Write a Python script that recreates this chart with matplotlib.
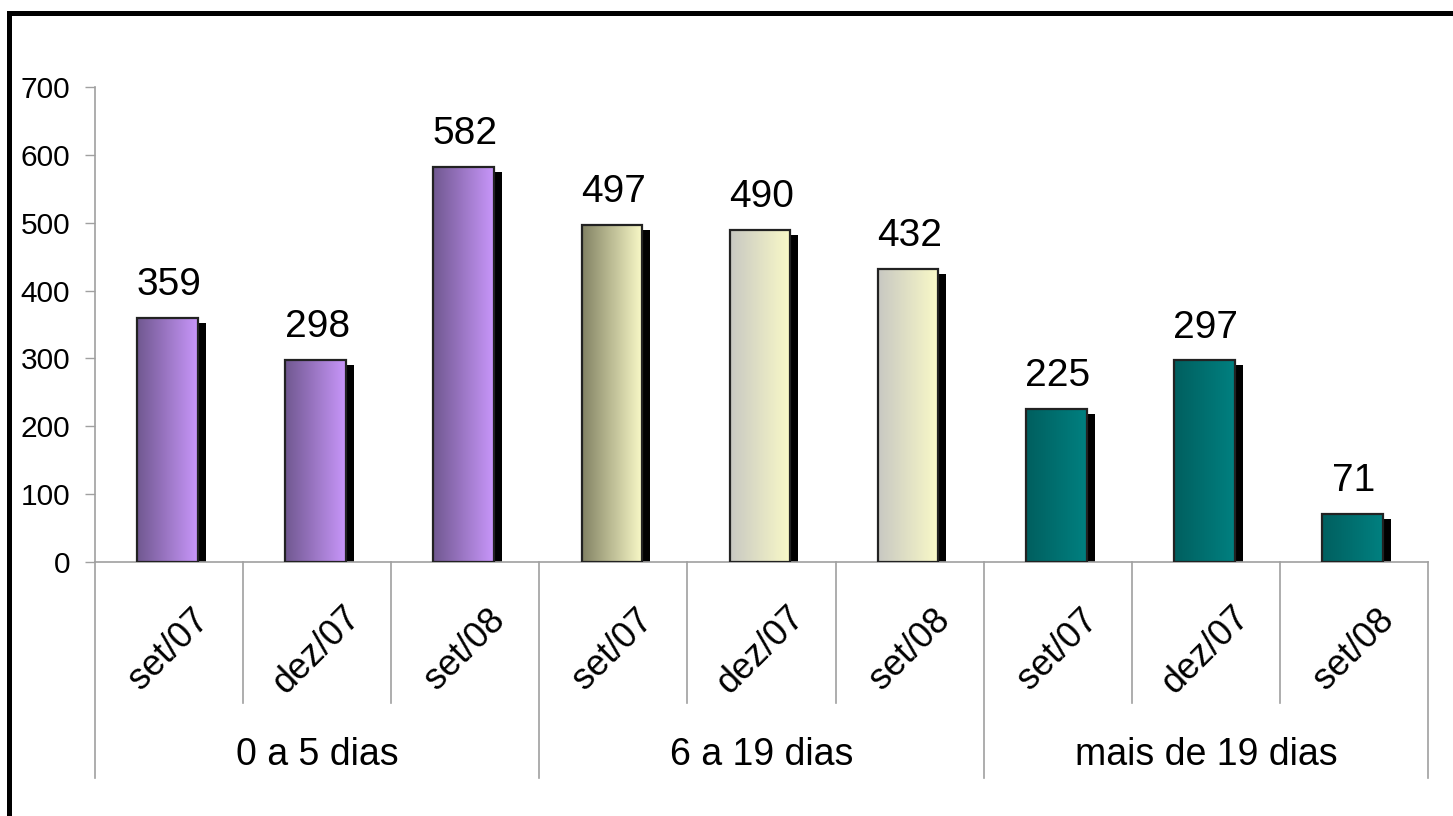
import matplotlib
matplotlib.use('Agg')
import matplotlib.pyplot as plt
import matplotlib.transforms as mtrans
from matplotlib.patches import Rectangle
from matplotlib.lines import Line2D
import numpy as np

# data
months = ['set/07', 'dez/07', 'set/08', 'set/07', 'dez/07', 'set/08', 'set/07', 'dez/07', 'set/08']
groups = ['0 a 5 dias', '6 a 19 dias', 'mais de 19 dias']
values = [359, 298, 582, 497, 490, 432, 225, 297, 71]

# gradient colours per bar (left, right)
grad_left = ['#705890', '#705890', '#705890', '#828264', '#c8c8c2', '#c8c8c2', '#005f5f', '#005f5f', '#005f5f']
grad_right = ['#c896fa', '#c896fa', '#c896fa', '#fafac8', '#fafac8', '#fafac8', '#008080', '#008080', '#008080']

plt.rcParams['font.family'] = ['Liberation Sans', 'DejaVu Sans']

W, H = 1453, 816
fig = plt.figure(figsize=(W/100, H/100), dpi=100)
ax = fig.add_axes([95/W, (H-562)/H, (1428-95)/W, (562-87)/H])

bw = 0.41
grey = '#a0a0a0'


def to_rgb(c):
    return np.array(matplotlib.colors.to_rgb(c))


for i, v in enumerate(values):
    x0 = i - bw/2 - 0.01
    # shadow
    sh = Rectangle((x0, 0), bw, v, facecolor='black', edgecolor='none', zorder=1,
                   transform=ax.transData + mtrans.ScaledTranslation(0.08, -0.05, fig.dpi_scale_trans))
    ax.add_patch(sh)
    # gradient fill
    t = np.linspace(0, 1, 128)[None, :, None]
    img = to_rgb(grad_left[i])[None, None, :] * (1 - t) + to_rgb(grad_right[i])[None, None, :] * t
    ax.imshow(img, extent=[x0, x0 + bw, 0, v], aspect='auto', zorder=2, interpolation='bilinear')
    ax.add_patch(Rectangle((x0, 0), bw, v, facecolor='none', edgecolor='#222222', lw=1.6, zorder=3))
    ax.annotate(str(v), (i, v), xytext=(0, 16.5), textcoords='offset points',
                ha='center', va='baseline', fontsize=28, color='black')

ax.set_xlim(-0.5, len(values) - 0.5)
ax.set_ylim(0, 700)
ax.set_yticks(range(0, 701, 100))
ax.set_xticks([])
ax.tick_params(axis='y', labelsize=21.5, length=7, width=1, color=grey, pad=11)
for s in ['top', 'right']:
    ax.spines[s].set_visible(False)
ax.spines['left'].set_color(grey)
ax.spines['bottom'].set_color(grey)
ax.spines['left'].set_linewidth(1.2)
ax.spines['bottom'].set_linewidth(1.2)

# category separators below the axis
trans = mtrans.blended_transform_factory(ax.transData, ax.transAxes)
for k in range(len(values) + 1):
    xb = k - 0.5
    depth = -216/475 if k % 3 == 0 else -141/475
    ax.add_line(Line2D([xb, xb], [0, depth], transform=trans, color=grey, lw=1.2, clip_on=False))

for i, m in enumerate(months):
    ax.text(i, -88/475, m, transform=trans, rotation=45, rotation_mode='anchor',
            ha='center', va='center', fontsize=26)

for g, name in enumerate(groups):
    ax.text(3*g + 1, -193/475, name, transform=trans, ha='center', va='center', fontsize=27)

# outer frame (only left and top visible in the picture)
fig.add_artist(Rectangle((9/W, -0.05), 1.1, (H-12.5)/H + 0.05, transform=fig.transFigure,
                         facecolor='none', edgecolor='black', lw=3.6))

fig.savefig('out.png', dpi=100)
